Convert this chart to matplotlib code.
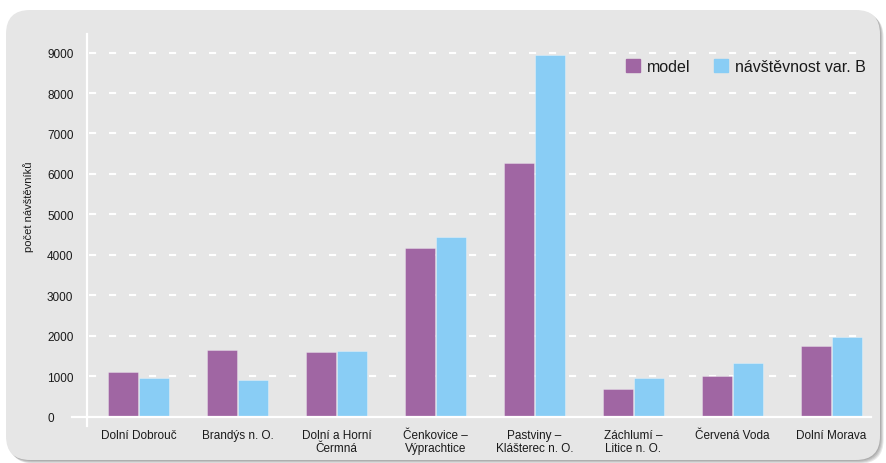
import numpy as np
import matplotlib
matplotlib.use("Agg")
from matplotlib import pyplot as plt
from matplotlib.patches import FancyBboxPatch, Patch
from matplotlib.lines import Line2D
from matplotlib.transforms import IdentityTransform

# visitor counts per locality
lokality = ["Dolní Dobrouč", "Brandýs n. O.", "Dolní a Horní\nČermná",
            "Čenkovice –\nVýprachtice", "Pastviny –\nKlášterec n. O.",
            "Záchlumí –\nLitice n. O.", "Červená Voda", "Dolní Morava"]
model = [1110, 1650, 1590, 4160, 6280, 685, 1010, 1745]
navstevnost_b = [940, 900, 1610, 4430, 8940, 960, 1315, 1960]
yticks = [0, 1000, 2000, 3000, 4000, 5000, 6000, 7000, 8000, 9000]

PURPLE = "#a066a3"
BLUE = "#89cdf5"
PANEL = "#e6e6e6"
TEXT = "#1a1a1a"

plt.rcParams["font.family"] = ["Liberation Sans", "DejaVu Sans"]

W, H = 886, 464
fig = plt.figure(figsize=(W / 100, H / 100), dpi=100)
fig.patch.set_facecolor("white")

# rounded grey panel with a soft shadow to the lower right (pixel coords)
px = IdentityTransform()
x0, y0, pw, ph = 6, H - 461, 874, 450
for k in range(1, 5):
    sh = FancyBboxPatch((x0 + k * 0.9, y0 - k * 0.9), pw, ph,
                        boxstyle="round,pad=0,rounding_size=24",
                        transform=px, fc="black", ec="none", alpha=0.09,
                        zorder=-3)
    fig.add_artist(sh)
panel = FancyBboxPatch((x0, y0), pw, ph, boxstyle="round,pad=0,rounding_size=24",
                       transform=px, fc=PANEL, ec="none", zorder=-2)
fig.add_artist(panel)

ax = fig.add_axes([87 / W, (H - 417.5) / H, 784 / W, 382.5 / H])
ax.set_facecolor("none")
for s in ax.spines.values():
    s.set_visible(False)

x = np.arange(len(lokality))
w = 0.30
ax.bar(x - 0.158, model, w, color=PURPLE, edgecolor=(1, 1, 1, 0.35),
       linewidth=0.6, zorder=3, label="model")
ax.bar(x + 0.158, navstevnost_b, w, color=BLUE, edgecolor=(1, 1, 1, 0.35),
       linewidth=0.6, zorder=3, label="návštěvnost var. B")

# dashed white grid
ax.hlines(yticks[1:], 0.002, 0.9936, transform=ax.get_yaxis_transform(),
          colors="white", linewidth=1.5, linestyles=(0, (3.4, 6.2)), zorder=1)

# axis lines run a little past the corner
ax.add_line(Line2D([-15 / 784, 1.0], [0, 0], transform=ax.transAxes,
                   color="white", lw=1.6, clip_on=False, zorder=4))
ax.add_line(Line2D([0, 0], [-9.5 / 382.5, 1.0], transform=ax.transAxes,
                   color="white", lw=1.6, clip_on=False, zorder=4))

ax.set_xlim(-0.52, 7.40)
ax.set_ylim(0, 9460)
ax.set_xticks(x)
ax.set_xticklabels(lokality, fontsize=8.5, color=TEXT, linespacing=1.15)
ax.set_yticks(yticks)
ax.set_yticklabels([str(t) for t in yticks], fontsize=8.5, color=TEXT,
                   ha="left")
ax.tick_params(axis="x", length=0, pad=9)
# left-aligned numbers, starting 40 px left of the axis
ax.tick_params(axis="y", length=0, pad=28.8)

fig.text(29 / W, 1 - 207 / H, "počet návštěvníků", rotation=90,
         ha="center", va="center", fontsize=8, color=TEXT)

handles = [Patch(color=PURPLE, label="model"),
           Patch(color=BLUE, label="návštěvnost var. B")]
ax.legend(handles=handles, ncol=2, loc="upper right",
          bbox_to_anchor=(866 / W, 1 - 60 / H), bbox_transform=fig.transFigure,
          frameon=False, fontsize=11.5, handlelength=0.88, handleheight=0.88,
          handletextpad=0.44, columnspacing=1.45, borderpad=0,
          borderaxespad=0, labelcolor=TEXT)

fig.savefig("out.png", dpi=100)
